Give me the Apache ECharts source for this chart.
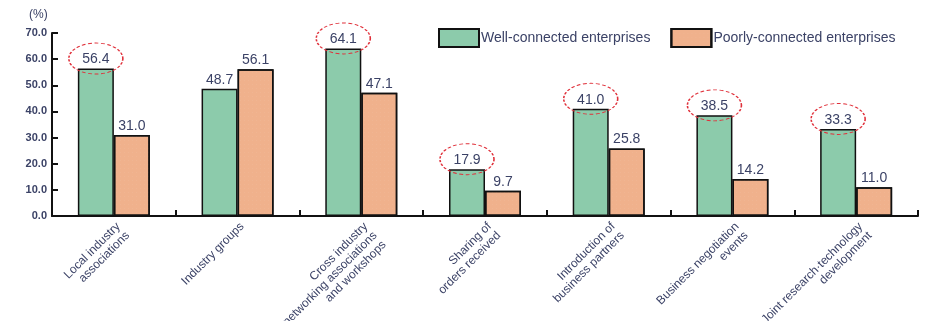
<!DOCTYPE html>
<html>
<head>
<meta charset="utf-8">
<script src="https://cdn.jsdelivr.net/npm/echarts@6/dist/echarts.min.js"></script>
<style>
  html, body { margin: 0; padding: 0; background: #fff; }
  #chart { width: 926px; height: 321px; }
</style>
</head>
<body>
<div id="chart"></div>
<script>
// Support channels used by enterprises, by network strength (%)
const categories = [
  'Local industry\nassociations',
  'Industry groups',
  'Cross industry\nnetworking associations\nand workshops',
  'Sharing of\norders received',
  'Introduction of\nbusiness partners',
  'Business negotiation\nevents',
  'Joint research\u00b7technology\ndevelopment'
];
const wellConnected = [56.4, 48.7, 64.1, 17.9, 41.0, 38.5, 33.3];
const poorlyConnected = [31.0, 56.1, 47.1, 9.7, 25.8, 14.2, 11.0];
// Categories whose well-connected value is circled
const circled = [0, 2, 3, 4, 5, 6];
const yTicks = { min: 0, max: 70, interval: 10 };

const textColor = '#3b4266';
const font = '"Liberation Sans", Arial, sans-serif';

const chart = echarts.init(document.getElementById('chart'), null, { renderer: 'canvas' });

chart.setOption({
  animation: false,
  backgroundColor: '#ffffff',
  grid: { left: 52, right: 8, top: 33, bottom: 105, containLabel: false, outerBoundsMode: 'none' },
  legend: {
    left: 433,
    top: 23,
    itemWidth: 40,
    itemHeight: 18,
    itemGap: 20,
    icon: 'rect',
    textStyle: { color: textColor, fontSize: 14, fontFamily: font, padding: [0, 0, 0, -3] },
    data: ['Well-connected enterprises', 'Poorly-connected enterprises']
  },
  graphic: [{
    type: 'text',
    left: 29,
    top: 9,
    style: { text: '(%)', fill: textColor, font: '12px ' + font }
  }],
  xAxis: {
    type: 'category',
    data: categories,
    axisLine: { lineStyle: { color: '#111', width: 2 } },
    axisTick: { show: true, inside: true, length: 6, lineStyle: { color: '#111', width: 2 } },
    axisLabel: {
      interval: 0,
      rotate: 45,
      color: textColor,
      fontSize: 12,
      lineHeight: 13,
      verticalAlign: 'top',
      fontFamily: font,
      margin: 4
    }
  },
  yAxis: {
    type: 'value',
    min: yTicks.min,
    max: yTicks.max,
    interval: yTicks.interval,
    splitLine: { show: false },
    axisLine: { show: true, lineStyle: { color: '#111', width: 2 } },
    axisTick: { show: true, inside: true, length: 6, lineStyle: { color: '#111', width: 2 } },
    axisLabel: {
      color: textColor,
      fontSize: 11,
      fontWeight: 'bold',
      fontFamily: font,
      margin: 5,
      formatter: v => v.toFixed(1)
    }
  },
  series: [
    {
      name: 'Well-connected enterprises',
      type: 'bar',
      data: wellConnected,
      barWidth: 36,
      barGap: '0%',
      itemStyle: { color: '#8ccbab', borderColor: '#111', borderWidth: 1.5 },
      label: {
        show: true,
        position: 'top',
        distance: 2,
        color: textColor,
        fontSize: 14,
        fontFamily: font,
        formatter: p => p.value.toFixed(1)
      },
      markPoint: {
        symbol: 'circle',
        symbolSize: [54, 31],
        symbolOffset: [0, -10],
        silent: true,
        label: { show: false },
        itemStyle: {
          color: 'rgba(0,0,0,0)',
          borderColor: '#e0303a',
          borderWidth: 1.2,
          borderType: [3, 2]
        },
        data: circled.map(i => ({ coord: [i, wellConnected[i]] }))
      }
    },
    {
      name: 'Poorly-connected enterprises',
      type: 'bar',
      data: poorlyConnected,
      barWidth: 36,
      itemStyle: {
        color: '#f0b18c',
        borderColor: '#111',
        borderWidth: 1.5,
        decal: {
          symbol: 'rect',
          symbolSize: 0.35,
          color: 'rgba(255,255,255,0.35)',
          dashArrayX: [1, 3],
          dashArrayY: [1, 3]
        }
      },
      label: {
        show: true,
        position: 'top',
        distance: 2,
        color: textColor,
        fontSize: 14,
        fontFamily: font,
        formatter: p => p.value.toFixed(1)
      }
    }
  ]
});
</script>
</body>
</html>
